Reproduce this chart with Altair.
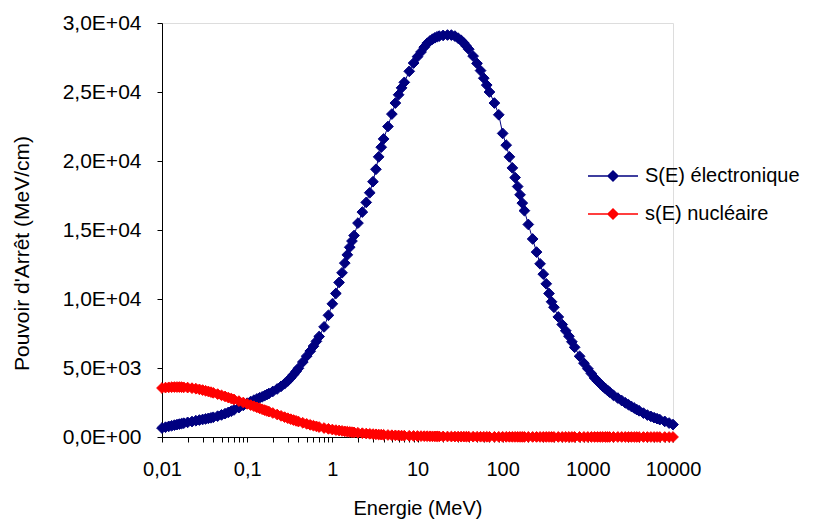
import altair as alt
import pandas as pd

# Energies (MeV) - standard SRIM energy grid from 10 keV to 10 GeV
energy = [
    0.010, 0.011, 0.012, 0.013, 0.014, 0.015, 0.016, 0.017, 0.018, 0.020, 0.0225, 0.025, 0.0275,
    0.030, 0.0325, 0.035, 0.0375, 0.040, 0.045, 0.050, 0.055, 0.060, 0.065, 0.070, 0.080, 0.090,
    0.10, 0.11, 0.12, 0.13, 0.14, 0.15, 0.16, 0.17, 0.18, 0.20, 0.225, 0.25, 0.275,
    0.30, 0.325, 0.35, 0.375, 0.40, 0.45, 0.50, 0.55, 0.60, 0.65, 0.70, 0.80, 0.90,
    1.0, 1.1, 1.2, 1.3, 1.4, 1.5, 1.6, 1.7, 1.8, 2.0, 2.25, 2.5, 2.75,
    3.0, 3.25, 3.5, 3.75, 4.0, 4.5, 5.0, 5.5, 6.0, 6.5, 7.0, 8.0, 9.0,
    10, 11, 12, 13, 14, 15, 16, 17, 18, 20, 22.5, 25, 27.5,
    30, 32.5, 35, 37.5, 40, 45, 50, 55, 60, 65, 70, 80, 90,
    100, 110, 120, 130, 140, 150, 160, 170, 180, 200, 225, 250, 275,
    300, 325, 350, 375, 400, 450, 500, 550, 600, 650, 700, 800, 900,
    1000, 1100, 1200, 1300, 1400, 1500, 1600, 1700, 1800, 2000, 2250, 2500, 2750,
    3000, 3250, 3500, 3750, 4000, 4500, 5000, 5500, 6000, 6500, 7000, 8000, 9000,
    10000,
]

# S(E) electronique (MeV/cm)
s_elec = [
    650, 710, 770, 815, 860, 900, 935, 970, 1000, 1060, 1120, 1180, 1230,
    1270, 1310, 1350, 1390, 1430, 1510, 1600, 1690, 1780, 1870, 1960, 2130, 2290,
    2450, 2570, 2670, 2760, 2840, 2910, 2990, 3070, 3150, 3300, 3480, 3670, 3860,
    4060, 4290, 4520, 4750, 4980, 5430, 5860, 6220, 6580, 6930, 7280, 7980, 8820,
    9650, 10400, 11200, 11900, 12600, 13200, 13750, 14200, 14600, 15500, 16300, 17000, 17700,
    18500, 19400, 20300, 21000, 21600, 22500, 23400, 24200, 24800, 25300, 25700, 26500, 27100,
    27560, 27900, 28250, 28530, 28700, 28830, 28930, 29000, 29050, 29100, 29130, 29120, 29050,
    28900, 28750, 28550, 28320, 28100, 27600, 27070, 26550, 26000, 25500, 25000, 24200, 23350,
    22000, 21150, 20300, 19500, 18800, 18150, 17550, 16950, 16400, 15400, 14350, 13400, 12550,
    11800, 11100, 10400, 9800, 9400, 8700, 8150, 7700, 7300, 6900, 6500, 5850, 5350,
    4950, 4600, 4280, 4050, 3850, 3670, 3520, 3380, 3250, 3020, 2820, 2640, 2480,
    2340, 2210, 2100, 1990, 1900, 1730, 1590, 1490, 1400, 1330, 1260, 1130, 1010,
    900,
]

# s(E) nucleaire (MeV/cm)
s_nucl = [
    3550, 3580, 3600, 3610, 3620, 3620, 3620, 3610, 3600, 3580, 3540, 3500, 3450,
    3400, 3350, 3300, 3250, 3200, 3110, 3020, 2940, 2860, 2790, 2720, 2600, 2500,
    2400, 2310, 2230, 2150, 2080, 2010, 1950, 1890, 1840, 1740, 1630, 1530, 1440,
    1360, 1290, 1230, 1170, 1120, 1030, 950, 880, 820, 770, 720, 650, 590,
    540, 500, 470, 440, 410, 390, 370, 350, 335, 305, 275, 250, 230,
    210, 195, 180, 170, 160, 145, 130, 120, 110, 100, 95, 85, 78,
    70, 65, 60, 56, 53, 50, 47, 45, 43, 39, 36, 33, 31,
    29, 27, 25, 24, 23, 21, 19, 18, 17, 16, 15, 14, 13,
    12, 11, 10, 9.5, 9, 8.5, 8, 7.7, 7.4, 6.8, 6.2, 5.7, 5.3,
    5, 4.7, 4.4, 4.2, 4, 3.7, 3.4, 3.2, 3, 2.8, 2.7, 2.4, 2.2,
    2.0, 1.9, 1.8, 1.7, 1.6, 1.5, 1.45, 1.4, 1.35, 1.25, 1.15, 1.05, 1.0,
    0.93, 0.88, 0.83, 0.79, 0.75, 0.68, 0.62, 0.58, 0.54, 0.51, 0.48, 0.43, 0.39,
    0.36,
]

series_names = ["S(E) électronique", "s(E) nucléaire"]
series_colors = ["#000080", "#FF0000"]

x_major = [0.01, 0.1, 1, 10, 100, 1000, 10000]
x_major_labels = ["0,01", "0,1", "1", "10", "100", "1000", "10000"]
x_minor = [
    0.02, 0.03, 0.04, 0.05, 0.06, 0.07, 0.08, 0.09,
    0.2, 0.3, 0.4, 0.5, 0.6, 0.7, 0.8, 0.9,
    2, 3, 4, 5, 6, 7, 8, 9,
    20, 30, 40, 50, 60, 70, 80, 90,
    200, 300, 400, 500, 600, 700, 800, 900,
    2000, 3000, 4000, 5000, 6000, 7000, 8000, 9000,
]
y_ticks = [0, 5000, 10000, 15000, 20000, 25000, 30000]
y_tick_labels = ["0,0E+00", "5,0E+03", "1,0E+04", "1,5E+04", "2,0E+04", "2,5E+04", "3,0E+04"]

FONT = "Liberation Sans"
FS = 20

df = pd.DataFrame({
    "energie": energy + energy,
    "valeur": s_elec + s_nucl,
    "serie": [series_names[0]] * len(energy) + [series_names[1]] * len(energy),
})

x_expr = ""
for v, lab in zip(x_major, x_major_labels):
    x_expr += f"abs(datum.value / {v} - 1) < 1e-6 ? '{lab}' : "
x_expr += "''"

y_expr = ""
for v, lab in zip(y_ticks, y_tick_labels):
    y_expr += f"datum.value == {v} ? '{lab}' : "
y_expr += "''"

cscale = alt.Scale(domain=series_names, range=series_colors)

legend_path = "M-1,0L1,0M0,-0.2L0.2,0L0,0.2L-0.2,0Z"
leg = alt.Legend(
    title=None, orient="none", legendX=425, legendY=127,
    symbolType=legend_path, symbolSize=2500, symbolStrokeWidth=1.5,
    labelFont=FONT, labelFontSize=FS, labelColor="black", labelOffset=6,
)

x_enc = alt.X(
    "energie:Q",
    scale=alt.Scale(type="log", domain=[0.01, 10000], nice=False),
    axis=alt.Axis(
        values=x_major + x_minor, labelExpr=x_expr, title="Energie (MeV)",
        grid=False, domainColor="black", tickColor="black", tickSize=5,
        labelFont=FONT, labelFontSize=FS, labelColor="black", labelPadding=17,
        labelFlush=False, labelOverlap=False,
        titleFont=FONT, titleFontSize=FS, titleFontWeight="normal", titleColor="black",
        titleY=71, titleBaseline="middle",
    ),
)
y_enc = alt.Y(
    "valeur:Q",
    scale=alt.Scale(domain=[0, 30000], nice=False),
    axis=alt.Axis(
        values=y_ticks, labelExpr=y_expr, title="Pouvoir d'Arrêt (MeV/cm)",
        grid=False, domainColor="black", tickColor="black", tickSize=5,
        labelFont=FONT, labelFontSize=21, labelColor="black", labelPadding=16,
        labelFlush=False,
        titleFont=FONT, titleFontSize=21, titleFontWeight="normal", titleColor="black",
        titleX=-140, titleY=230, titleBaseline="middle",
    ),
)

base = alt.Chart(df)
lines = base.mark_line(strokeWidth=1).encode(
    x=x_enc, y=y_enc,
    stroke=alt.Stroke("serie:N", scale=cscale, legend=leg),
)
points = base.mark_point(shape="diamond", filled=True, size=115, opacity=1, strokeWidth=1).encode(
    x=x_enc, y=y_enc,
    fill=alt.Fill("serie:N", scale=cscale, legend=leg),
    stroke=alt.Stroke("serie:N", scale=cscale, legend=leg),
)

chart = alt.layer(lines, points).properties(
    width=511, height=414,
    autosize=alt.AutoSizeParams(type="none"),
    padding={"left": 154, "top": 15, "right": 137, "bottom": 83},
).configure_view(stroke=None).configure(background="white")

chart.save("out.html", embed_options={"renderer": "svg", "actions": False})
